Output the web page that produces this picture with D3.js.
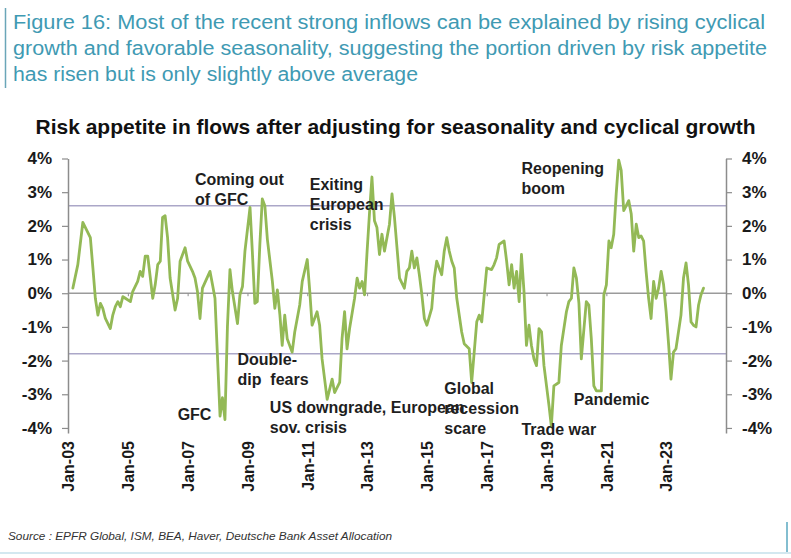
<!DOCTYPE html>
<html>
<head>
<meta charset="utf-8">
<script src="https://cdn.jsdelivr.net/npm/d3@7"></script>
<style>
  html, body { margin: 0; padding: 0; background: #ffffff; }
  svg { display: block; }
  text { font-family: "Liberation Sans", Arial, Helvetica, sans-serif; }
</style>
</head>
<body>
<svg id="chart" width="791" height="558"></svg>
<script>
// Monthly risk-appetite reading (% of AUM), after adjusting for seasonality and cyclical growth
const dates = [
  "2003-03","2003-05","2003-07","2003-10","2003-11","2003-12","2004-01","2004-02","2004-03","2004-04",
  "2004-06","2004-07","2004-08","2004-09","2004-10","2004-11","2004-12","2005-02","2005-03","2005-05",
  "2005-06","2005-07","2005-08","2005-09","2005-11","2005-12","2006-01","2006-02","2006-03","2006-04",
  "2006-05","2006-06","2006-08","2006-09","2006-10","2006-12","2007-01","2007-03","2007-04","2007-05",
  "2007-06","2007-07","2007-10","2007-11","2007-12","2008-02","2008-03","2008-04","2008-05","2008-06",
  "2008-07","2008-09","2008-10","2008-11","2008-12","2009-02","2009-03","2009-04","2009-05","2009-06",
  "2009-07","2009-08","2009-09","2009-11","2009-12","2010-01","2010-02","2010-03","2010-04","2010-05",
  "2010-07","2010-08","2010-10","2010-11","2011-01","2011-02","2011-03","2011-05","2011-06","2011-07",
  "2011-09","2011-11","2011-12","2012-02","2012-03","2012-04","2012-05","2012-06","2012-08","2012-09",
  "2012-10","2012-11","2012-12","2013-01","2013-02","2013-03","2013-04","2013-05","2013-06","2013-07",
  "2013-08","2013-10","2013-11","2013-12","2014-01","2014-02","2014-04","2014-05","2014-06","2014-07",
  "2014-08","2014-09","2014-10","2014-11","2014-12","2015-01","2015-03","2015-04","2015-05","2015-07",
  "2015-08","2015-09","2015-10","2015-11","2015-12","2016-01","2016-03","2016-04","2016-06","2016-07",
  "2016-08","2016-09","2016-10","2016-11","2016-12","2017-01","2017-03","2017-04","2017-05","2017-06",
  "2017-08","2017-09","2017-10","2017-11","2017-12","2018-01","2018-02","2018-03","2018-04","2018-05",
  "2018-06","2018-07","2018-08","2018-09","2018-10","2018-11","2018-12","2019-02","2019-03","2019-04",
  "2019-06","2019-07","2019-09","2019-10","2019-11","2019-12","2020-01","2020-02","2020-03","2020-05",
  "2020-06","2020-07","2020-08","2020-09","2020-11","2020-12","2021-01","2021-02","2021-03","2021-04",
  "2021-05","2021-06","2021-07","2021-08","2021-09","2021-10","2021-11","2021-12","2022-01","2022-02",
  "2022-03","2022-04","2022-05","2022-06","2022-07","2022-08","2022-09","2022-10","2022-11","2022-12",
  "2023-01","2023-02","2023-03","2023-04","2023-05","2023-07","2023-08","2023-09","2023-10","2023-11",
  "2023-12","2024-01","2024-02","2024-03","2024-04"
];
const values = [
   0.15, 0.85, 2.10, 1.65, 0.75,-0.15,-0.65,-0.30,-0.45,-0.75,
  -1.05,-0.65,-0.40,-0.25,-0.40,-0.10,-0.15,-0.25, 0.05, 0.35,
   0.65, 0.50, 1.10, 1.10,-0.15, 0.25, 0.85, 0.95, 2.25, 2.30,
   1.65, 0.45,-0.50,-0.15, 0.95, 1.35, 0.95, 0.65, 0.45, 0.05,
  -0.75, 0.15, 0.65, 0.25,-0.15,-3.65,-3.10,-3.75,-1.00, 0.70,
   0.05,-0.90,-0.05, 0.20, 1.25, 2.55, 1.25,-0.30,-0.25, 1.45,
   2.80, 2.60, 1.60, 0.35,-0.45, 0.10,-0.65,-1.55,-0.65,-1.35,
  -1.75,-1.15,-0.35, 0.35, 1.00, 0.05,-0.95,-0.55,-0.95,-1.95,
  -3.15,-2.55,-2.95,-2.65,-1.35,-0.55,-1.65,-1.05,-0.15, 0.45,
   0.15, 0.35,-0.05, 1.25, 2.45, 3.45, 2.15, 1.95, 1.15, 1.75,
   1.25, 2.05, 2.95, 2.25, 1.35, 0.45, 0.15, 0.65, 0.75, 1.25,
   0.75, 1.05, 0.55,-0.05,-0.75,-0.95,-0.45, 0.45, 0.95, 0.55,
   1.25, 1.65, 1.25, 0.95, 0.75,-0.15,-1.15,-1.50,-1.65,-2.65,
  -1.75,-0.85,-0.65,-0.85,-0.05, 0.75, 0.70, 0.85, 1.05, 1.45,
   1.55, 0.95, 0.25, 0.85, 0.15, 0.65,-0.25, 1.15, 0.05,-1.55,
  -0.95,-1.55,-1.95,-2.15,-1.05,-1.15,-2.15,-3.35,-3.95,-2.75,
  -2.65,-1.55,-0.55,-0.25,-0.15, 0.75, 0.45,-0.30,-1.95,-0.25,
  -0.35,-1.35,-2.75,-2.90,-2.90,-0.05, 0.25, 1.55, 1.35, 1.75,
   2.95, 3.95, 3.65, 2.45, 2.60, 2.75, 2.35, 1.25, 2.05, 1.65,
   1.70, 1.55, 0.65,-0.15,-0.75, 0.35,-0.15, 0.15, 0.65, 0.25,
  -0.55,-1.55,-2.55,-1.75,-1.65,-0.65, 0.45, 0.90, 0.25,-0.85,
  -0.95,-1.00,-0.35,-0.05, 0.15
];

// Axis ticks
const xTickDates  = ["2003-01","2005-01","2007-01","2009-01","2011-01","2013-01","2015-01","2017-01","2019-01","2021-01","2023-01"];
const xTickLabels = ["Jan-03","Jan-05","Jan-07","Jan-09","Jan-11","Jan-13","Jan-15","Jan-17","Jan-19","Jan-21","Jan-23"];
const yTicks      = [-4, -3, -2, -1, 0, 1, 2, 3, 4];
const yTickLabels = ["-4%","-3%","-2%","-1%","0%","1%","2%","3%","4%"];

// Reference levels (upper / lower band)
const bandLevels = [2.6, -1.8];

// Event annotations, anchored at (date, value) of their first line
const annotationText   = [["Coming out","of GFC"],["Exiting","European","crisis"],["Reopening","boom"],
                          ["Double-","dip  fears"],["GFC"],["US downgrade, European","sov. crisis"],
                          ["Global","recession","scare"],["Trade war"],["Pandemic"]];
const annotationDates  = ["2007-04","2011-02","2018-03","2008-09","2006-09","2009-10","2015-08","2018-03","2019-12"];
const annotationValues = [3.2, 3.06, 3.54, -2.13, -3.76, -3.56, -2.99, -4.21, -3.32];

const headerLines = [
  "Figure 16: Most of the recent strong inflows can be explained by rising cyclical",
  "growth and favorable seasonality, suggesting the portion driven by risk appetite",
  "has risen but is only slightly above average"
];
const chartTitle = "Risk appetite in flows after adjusting for seasonality and cyclical growth";
const sourceNote = "Source : EPFR Global, ISM, BEA, Haver, Deutsche Bank Asset Allocation";

// ---------------------------------------------------------------------------
const W = 791, H = 558;
const plotLeft = 68, plotRight = 726, plotTop = 158.5, plotBottom = 433;
const parse = d3.timeParse("%Y-%m");
const svg = d3.select("#chart");

const x = d3.scaleTime()
  .domain([parse("2003-01"), parse("2025-01")])
  .range([plotLeft, plotRight]);
const y = d3.scaleLinear()
  .domain([-4.15, 4])
  .range([plotBottom, plotTop]);

// Header block
svg.append("line")
  .attr("x1", 5.5).attr("x2", 5.5).attr("y1", 8).attr("y2", 88)
  .attr("stroke", "#6aa6b8").attr("stroke-width", 1.5);
const headerWidths = [752, 754, 405];
svg.append("g").selectAll("text")
  .data(headerLines)
  .join("text")
  .attr("x", 13)
  .attr("y", (d, i) => 29 + i * 26)
  .attr("fill", "#3f9ab3")
  .attr("textLength", (d, i) => headerWidths[i])
  .attr("lengthAdjust", "spacingAndGlyphs")
  .style("font-size", "19.5px")
  .text(d => d);

// Chart title
svg.append("text")
  .attr("x", W / 2).attr("y", 134)
  .attr("text-anchor", "middle")
  .attr("fill", "#111")
  .style("font-size", "21px").style("font-weight", "bold")
  .text(chartTitle);

// Reference lines
svg.append("g").selectAll("line")
  .data(bandLevels)
  .join("line")
  .attr("x1", plotLeft).attr("x2", plotRight)
  .attr("y1", d => y(d)).attr("y2", d => y(d))
  .attr("stroke", "#aba7c8").attr("stroke-width", 1.5);

svg.append("line")
  .attr("x1", plotLeft).attr("x2", plotRight)
  .attr("y1", y(0)).attr("y2", y(0))
  .attr("stroke", "#9b9b9b").attr("stroke-width", 1.5);

// Year ticks sitting on the zero line
const zeroAxis = svg.append("g")
  .attr("transform", `translate(0,${y(0)})`)
  .call(d3.axisBottom(x).tickValues(xTickDates.map(parse)).tickSize(3).tickFormat(""));
zeroAxis.select(".domain").remove();
zeroAxis.selectAll(".tick line").attr("stroke", "#8f8f8f");

// Left and right value axes
function styleAxis(g) {
  g.select(".domain").attr("stroke", "#8c8c8c").attr("stroke-width", 1.5);
  g.selectAll(".tick line").attr("stroke", "#8c8c8c").attr("stroke-width", 1.2);
  g.selectAll(".tick text")
    .attr("fill", "#1a1a1a")
    .style("font-size", "17px").style("font-weight", "bold")
    .style("font-family", "'Liberation Sans', Arial, sans-serif");
}
svg.append("g")
  .attr("transform", `translate(${plotLeft},0)`)
  .call(d3.axisLeft(y).tickValues(yTicks).tickFormat((d, i) => yTickLabels[i]).tickSize(6).tickSizeOuter(0).tickPadding(10))
  .call(styleAxis);
svg.append("g")
  .attr("transform", `translate(${plotRight},0)`)
  .call(d3.axisRight(y).tickValues(yTicks).tickFormat((d, i) => yTickLabels[i]).tickSize(6).tickSizeOuter(0).tickPadding(10))
  .call(styleAxis);

// Rotated date labels under the plot
const dateAxis = svg.append("g")
  .attr("transform", `translate(0,${plotBottom + 8})`)
  .call(d3.axisBottom(x).tickValues(xTickDates.map(parse)).tickFormat((d, i) => xTickLabels[i]).tickSize(0));
dateAxis.select(".domain").remove();
dateAxis.selectAll(".tick text")
  .attr("transform", "rotate(-90)")
  .attr("x", 0).attr("y", 0).attr("dy", "0.36em")
  .attr("text-anchor", "end")
  .attr("fill", "#1a1a1a")
  .style("font-size", "16px").style("font-weight", "bold")
  .style("font-family", "'Liberation Sans', Arial, sans-serif");

// Series line
const series = dates.map((d, i) => ({ date: parse(d), value: values[i] }));
svg.append("path")
  .datum(series)
  .attr("fill", "none")
  .attr("stroke", "#93b956")
  .attr("stroke-width", 2.8)
  .attr("stroke-linejoin", "round")
  .attr("stroke-linecap", "round")
  .attr("d", d3.line().x(d => x(d.date)).y(d => y(d.value)));

// Event annotations
const notes = svg.append("g");
annotationText.forEach((lines, i) => {
  const t = notes.append("text")
    .attr("x", x(parse(annotationDates[i])))
    .attr("y", y(annotationValues[i]))
    .attr("fill", "#1e1e1e")
    .style("font-size", "16px").style("font-weight", "bold")
    .style("white-space", "pre");
  lines.forEach((line, j) => {
    t.append("tspan")
      .attr("x", x(parse(annotationDates[i])))
      .attr("dy", j === 0 ? 0 : 20)
      .text(line);
  });
});

// Source note and page edge
svg.append("text")
  .attr("x", 8).attr("y", 540)
  .attr("fill", "#333")
  .style("font-size", "11.8px").style("font-style", "italic")
  .text(sourceNote);
svg.append("line")
  .attr("x1", 0).attr("x2", W).attr("y1", 553).attr("y2", 553)
  .attr("stroke", "#d3e8f0").attr("stroke-width", 2);
svg.append("line")
  .attr("x1", 787).attr("x2", 787).attr("y1", 522).attr("y2", 552)
  .attr("stroke", "#5aa9c0").attr("stroke-width", 1.5);
</script>
</body>
</html>
